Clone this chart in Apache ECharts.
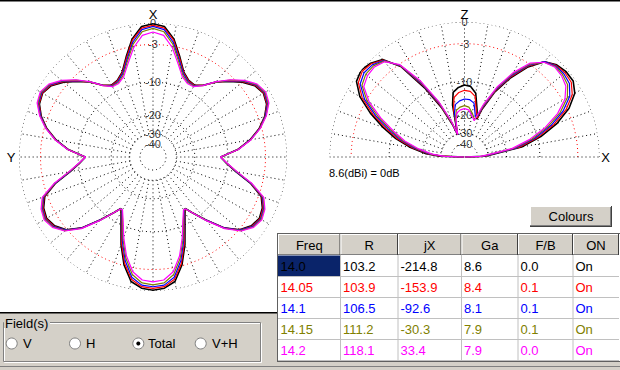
<!DOCTYPE html>
<html><head><meta charset="utf-8">
<script src="https://cdn.jsdelivr.net/npm/echarts@6/dist/echarts.min.js"></script>
<style>html,body{margin:0;padding:0;background:#fff}#c{width:620px;height:370px}</style>
</head><body><div id="c"></div>
<script>
// ---------- DATA ----------
const freqs = ['14.0', '14.05', '14.1', '14.15', '14.2'];
const rVals = ['103.2', '103.9', '106.5', '111.2', '118.1'];
const jxVals = ['-214.8', '-153.9', '-92.6', '-30.3', '33.4'];
const gaVals = ['8.6', '8.4', '8.1', '7.9', '7.9'];
const fbVals = ['0.0', '0.1', '0.1', '0.1', '0.0'];
const onVals = ['On', 'On', 'On', 'On', 'On'];
const tableHeaders = ['Freq', 'R', 'jX', 'Ga', 'F/B', 'ON'];
const fieldOptions = ['V', 'H', 'Total', 'V+H'];
const seriesColors = ['#000000', '#ff0000', '#0000ff', '#808000', '#ff00ff'];

// dB rings and their labels
const dbTicks = [0, -3, -10, -20, -30, -40];
const dbTickLabels = ['0', '-3', '-10', '-20', '-30', '-40'];
const refText = '8.6(dBi) = 0dB';

// Horizontal (azimuth) pattern, half plane from X (0) to the rear (180), symmetric
const azAngles = [0,5,10,15,20,25,30,35,40,45,50,55,60,65,70,75,80,85,90,95,100,105,110,115,120,125,130,135,140,145,148,150,155,160,165,170,175,180];
const az_14_0  = [-0.1,-0.4,-1.9,-4.4,-6.8,-7.9,-8.2,-7.3,-5.4,-3.9,-2.4,-1.3,-0.85,-1.15,-2.05,-3.4,-5.3,-7.8,-11.7,-10.2,-8.0,-4.9,-2.6,-1.8,-1.5,-1.9,-2.9,-5.0,-8.4,-11.7,-13.6,-12.7,-9.8,-6.2,-3.1,-1.0,-0.3,-0.1];
const az_14_05 = [-0.3,-0.6,-2.1,-4.6,-6.9,-8.0,-8.3,-7.3,-5.4,-3.8,-2.3,-1.2,-0.8,-1.1,-2.0,-3.35,-5.25,-7.8,-11.7,-10.2,-7.95,-4.85,-2.5,-1.7,-1.4,-1.8,-2.85,-5.0,-8.4,-11.7,-13.6,-12.9,-10.1,-6.5,-3.4,-1.3,-0.5,-0.35];
const az_14_1  = [-0.45,-0.8,-2.4,-4.9,-7.1,-8.2,-8.4,-7.3,-5.4,-3.7,-2.2,-1.1,-0.7,-1.0,-1.95,-3.3,-5.2,-7.75,-11.8,-10.15,-7.9,-4.8,-2.4,-1.6,-1.3,-1.7,-2.8,-5.0,-8.4,-11.8,-13.6,-13.1,-10.4,-6.9,-3.8,-1.6,-0.7,-0.55];
const az_14_15 = [-0.7,-1.1,-2.7,-5.2,-7.4,-8.4,-8.5,-7.4,-5.4,-3.6,-2.1,-1.0,-0.6,-0.9,-1.85,-3.25,-5.15,-7.7,-11.8,-10.1,-7.8,-4.7,-2.3,-1.5,-1.2,-1.6,-2.7,-4.9,-8.3,-11.8,-13.5,-13.3,-10.7,-7.3,-4.2,-2.0,-1.0,-0.8];
const az_14_2  = [-1.2,-1.6,-3.2,-5.6,-7.7,-8.6,-8.6,-7.4,-5.3,-3.5,-2.0,-0.9,-0.5,-0.8,-1.8,-3.2,-5.1,-7.65,-11.8,-10.0,-7.7,-4.6,-2.2,-1.4,-1.1,-1.5,-2.6,-4.8,-8.2,-11.7,-13.4,-13.5,-11.0,-7.7,-4.6,-2.4,-1.4,-1.2];

// Vertical (elevation) pattern, 0 = horizon toward X (right), 180 = opposite horizon
const elAngles = [0,2,5,10,15,20,25,30,35,40,45,50,55,60,65,70,72,75,80,85,90,95,100,103,107,110,115,120,125,130,135,140,145,150,155,160,165,170,175,178,180];
const el_14_0  = [-99,-33,-27,-14.5,-9.2,-5.4,-2.7,-1.0,-0.3,-0.3,-0.6,-1.4,-3.6,-6.8,-10.8,-17,-21,-17.5,-12.6,-11.1,-10.8,-11.3,-12.4,-16,-30,-24,-15.5,-9.0,-3.5,-1.0,-0.3,0,-0.4,-1.9,-4.5,-7.6,-11,-15.5,-21.5,-29,-99];
const el_14_05 = [-99,-34,-28,-15.3,-9.9,-6.0,-3.2,-1.4,-0.6,-0.5,-0.7,-1.4,-3.4,-6.5,-10.5,-16.5,-20.5,-18.5,-13.5,-12.3,-12.1,-12.6,-13.8,-17.5,-30,-23.5,-15,-8.6,-3.4,-1.1,-0.4,-0.2,-0.7,-2.3,-5.0,-8.2,-11.6,-16.2,-22.3,-30,-99];
const el_14_1  = [-99,-35,-29,-16.1,-10.6,-6.6,-3.7,-1.8,-0.9,-0.7,-0.8,-1.4,-3.2,-6.2,-10.2,-16,-19.5,-20,-15.5,-14.6,-14.5,-15,-16,-19,-30,-23,-14.5,-8.2,-3.3,-1.2,-0.6,-0.5,-1.0,-2.7,-5.5,-8.8,-12.2,-16.9,-23,-31,-99];
const el_14_15 = [-99,-36,-30,-16.9,-11.3,-7.2,-4.2,-2.2,-1.2,-0.9,-0.9,-1.5,-3.0,-5.9,-9.9,-15.5,-18.5,-21.5,-19,-17,-16.6,-17,-18,-21,-30,-22.5,-14,-7.8,-3.2,-1.3,-0.8,-0.8,-1.3,-3.1,-6.0,-9.4,-12.8,-17.6,-23.7,-32,-99];
const el_14_2  = [-99,-37,-31,-17.7,-12.0,-7.8,-4.7,-2.6,-1.5,-1.1,-1.0,-1.5,-2.8,-5.6,-9.6,-15,-18,-22,-20,-18,-17.6,-18,-19,-22,-30,-22,-13.5,-7.4,-3.1,-1.4,-1.0,-1.1,-1.6,-3.5,-6.5,-10,-13.4,-18.3,-24.4,-33,-99];

// ---------- CHART ----------
const FONT = '"Liberation Sans", Arial, sans-serif';
const toR = db => Math.pow(0.89, -db / 2);   // ARRL log-periodic radial scale

const azSeries = [az_14_0, az_14_05, az_14_1, az_14_15, az_14_2];
const elSeries = [el_14_0, el_14_05, el_14_1, el_14_15, el_14_2];

function mirrored(angles, vals) {
  const a = angles.concat(angles.slice(0, -1).reverse().map(x => 360 - x));
  const v = vals.concat(vals.slice(0, -1).reverse());
  return a.map((ang, i) => [toR(v[i]), ang]);
}
function ring(db, a0, a1) {
  const pts = [];
  for (let a = a0; a <= a1; a += 2) pts.push([toR(db), a]);
  return pts;
}

const series = [];
function gridFor(pi, a0, a1, spokeAngles, labelAngle) {
  dbTicks.forEach(d => {
    series.push({
      type: 'line', coordinateSystem: 'polar', polarIndex: pi, data: ring(d, a0, a1),
      symbol: 'none', silent: true, z: 1,
      lineStyle: { color: d === -3 ? '#ff0000' : '#000000', width: 1, type: [1, 3] }
    });
  });
  series.push({
    type: 'custom', coordinateSystem: 'polar', polarIndex: pi, silent: true, z: 1,
    encode: { radius: 0, angle: 1 },
    data: spokeAngles.map(a => [1, a]),
    renderItem: (params, api) => {
      const a = api.value(1);
      const p0 = api.coord([toR(-30), a]);
      const p1 = api.coord([1, a]);
      return { type: 'line', shape: { x1: p0[0], y1: p0[1], x2: p1[0], y2: p1[1] },
        style: { stroke: '#000', lineWidth: 1, lineDash: [1, 3] } };
    }
  });
  series.push({
    type: 'scatter', coordinateSystem: 'polar', polarIndex: pi, silent: true, z: 2,
    symbolSize: 1, itemStyle: { color: 'rgba(0,0,0,0)' },
    data: dbTicks.map(d => [toR(d), labelAngle]),
    label: { show: true, position: 'inside', formatter: p => dbTickLabels[p.dataIndex],
      color: '#000', fontSize: 11, fontFamily: FONT }
  });
}
const spokesAz = []; for (let a = 0; a < 360; a += 10) spokesAz.push(a);
const spokesEl = []; for (let a = 10; a < 180; a += 10) spokesEl.push(a);
gridFor(0, 0, 360, spokesAz, 0);
gridFor(1, 0, 180, spokesEl, 90);
series.push({ type: 'line', coordinateSystem: 'polar', polarIndex: 1, data: [[1, 180], [1, 0]],
  symbol: 'none', silent: true, z: 1, lineStyle: { color: '#000', width: 1, type: [1, 3] } });

azSeries.forEach((vals, i) => series.push({
  type: 'line', name: freqs[i], coordinateSystem: 'polar', polarIndex: 0,
  data: mirrored(azAngles, vals), symbol: 'none', z: 3, silent: true,
  lineStyle: { color: seriesColors[i], width: i === 0 ? 1.6 : 1.2 }
}));
elSeries.forEach((vals, i) => series.push({
  type: 'line', name: freqs[i], coordinateSystem: 'polar', polarIndex: 1,
  data: elAngles.map((a, k) => [toR(vals[k]), a]), symbol: 'none', z: 3, silent: true,
  lineStyle: { color: seriesColors[i], width: i === 0 ? 1.6 : 1.2 }
}));

// ---------- UI (graphic) ----------
const G = [];
const rect = (x, y, w, h, fill) => G.push({ type: 'rect', shape: { x, y, width: w, height: h }, style: { fill }, silent: true });
const line = (x1, y1, x2, y2, stroke, w) => G.push({ type: 'line', shape: { x1, y1, x2, y2 }, style: { stroke, lineWidth: w || 1 }, silent: true });
const text = (x, y, t, o) => { o = o || {}; G.push({ type: 'text', x, y, silent: true,
  style: { text: t, fill: o.fill || '#000', font: (o.size || 13) + 'px ' + FONT, align: o.align || 'left', verticalAlign: 'middle' } }); };

const GRAY = '#d4d0c8';
// top border
rect(0, 0, 620, 1.5, '#000');
// axis names & reference
text(153, 14, 'X', { align: 'center' });
text(11, 157.5, 'Y', { align: 'center' });
text(464.5, 14, 'Z', { align: 'center' });
text(605.5, 157.5, 'X', { align: 'center' });
text(329, 173, refText, { size: 11 });

// bottom left panel
rect(0, 312, 277, 58, GRAY);
line(0, 312.75, 277, 312.75, '#000', 1.5);
// group box
G.push({ type: 'rect', shape: { x: 4.5, y: 323.5, width: 257, height: 39 }, style: { fill: 'none', stroke: '#ffffff', lineWidth: 1 }, silent: true });
G.push({ type: 'rect', shape: { x: 3.5, y: 322.5, width: 257, height: 39 }, style: { fill: 'none', stroke: '#808080', lineWidth: 1 }, silent: true });
rect(4, 316, 46, 12, GRAY);
text(5, 323, 'Field(s)');
const radioX = [11.7, 75, 138.3, 200.7];
const radioLabelX = [23, 86, 148, 212];
fieldOptions.forEach((f, i) => {
  G.push({ type: 'circle', shape: { cx: radioX[i], cy: 343.5, r: 5.5 }, style: { fill: '#fff', stroke: '#808080', lineWidth: 1 }, silent: true });
  if (f === 'Total') G.push({ type: 'circle', shape: { cx: radioX[i], cy: 343.5, r: 2 }, style: { fill: '#000' }, silent: true });
  text(radioLabelX[i], 343.5, f);
});

// bottom strip
rect(277, 361, 343, 9, GRAY);
line(0, 366.5, 620, 366.5, '#808080', 1);

// Colours button
rect(530, 206, 82, 21, GRAY);
line(530, 206.5, 611, 206.5, '#fff', 1);
line(530.5, 206, 530.5, 226, '#fff', 1);
line(530, 225.5, 611, 225.5, '#808080', 1);
line(610.5, 207, 610.5, 226, '#808080', 1);
line(530, 226.5, 612, 226.5, '#404040', 1);
line(611.5, 206, 611.5, 227, '#404040', 1);
text(571, 216.5, 'Colours', { align: 'center' });

// Table
const colX = [278, 340.5, 398, 461.5, 518, 573, 619];
const tableCols = [freqs, rVals, jxVals, gaVals, fbVals, onVals];
rect(278, 234, 342, 127, '#fff');
tableHeaders.forEach((h, j) => {
  const x0 = colX[j], x1 = colX[j + 1];
  rect(x0, 234, x1 - x0, 21, GRAY);
  line(x0, 234.5, x1 - 1, 234.5, '#fff', 1);
  line(x0 + 0.5, 234, x0 + 0.5, 254, '#fff', 1);
  line(x0, 254.5, x1, 254.5, '#808080', 1);
  line(x1 - 0.5, 234, x1 - 0.5, 255, '#404040', 1);
  text((x0 + x1) / 2, 245, h, { align: 'center' });
});
rect(278, 255.5, 62, 20.5, '#0a246a');
for (let k = 0; k < 5; k++) line(278, 276.5 + 21 * k, 619, 276.5 + 21 * k, '#c0c0c0', 1);
for (let j = 1; j < 6; j++) line(colX[j], 255, colX[j], 360, '#c0c0c0', 1);
freqs.forEach((f, k) => {
  tableCols.forEach((col, j) => {
    text(colX[j] + 2.5, 266 + 21 * k, col[k], { fill: seriesColors[k] });
  });
});
line(277.5, 233, 277.5, 362, '#606060', 1);
line(277, 233.5, 620, 233.5, '#606060', 1);
line(277, 361.5, 620, 361.5, '#606060', 1);

const option = {
  backgroundColor: '#ffffff',
  animation: false,
  polar: [
    { center: [153, 157], radius: 134 },
    { center: [464.5, 157], radius: 135 }
  ],
  angleAxis: [
    { polarIndex: 0, type: 'value', min: 0, max: 360, startAngle: 90, clockwise: false, show: false },
    { polarIndex: 1, type: 'value', min: 0, max: 360, startAngle: 0, clockwise: false, show: false }
  ],
  radiusAxis: [
    { polarIndex: 0, type: 'value', min: 0, max: 1, show: false },
    { polarIndex: 1, type: 'value', min: 0, max: 1, show: false }
  ],
  series: series,
  graphic: { elements: G }
};
const chart = echarts.init(document.getElementById('c'), null, { renderer: 'svg', width: 620, height: 370 });
chart.setOption(option);
</script>
</body></html>
